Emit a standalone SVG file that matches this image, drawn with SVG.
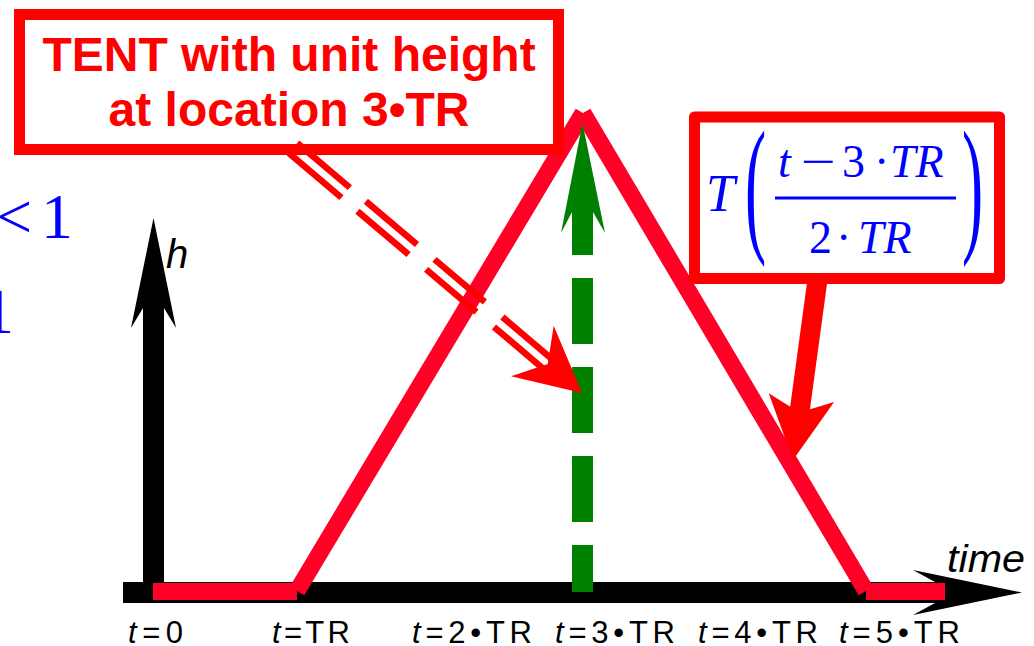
<svg xmlns="http://www.w3.org/2000/svg" width="1034" height="646" viewBox="0 0 1034 646">
<style>
.lbl{font-family:"Liberation Sans",Arial,sans-serif;font-size:31px;fill:#000}
.it{font-style:italic}
.math{font-family:"Liberation Serif","Times New Roman",serif;fill:#0000ff}
.boxtxt{font-family:"Liberation Sans",Arial,sans-serif;font-weight:bold;font-size:48px;fill:#ff0000}
.tent{stroke:#ff0026;stroke-width:17;fill:none;stroke-linecap:butt}
.dbl{stroke:#ff0000;stroke-width:6.5;fill:none;stroke-dasharray:69 21 67 23 66 23 300}
</style>
<rect width="1034" height="646" fill="#ffffff"/>

<!-- cropped blue text at left edge -->
<g id="leftmath" class="math" font-size="64">
  <text x="-4" y="238">&lt;</text>
  <text x="41" y="238">1</text>
  <text x="-18" y="333">1</text>
</g>

<!-- axes -->
<g id="axes" fill="#000">
  <polygon points="153.5,218 176,328 164,308 164,603 143,603 143,308 131,328"/>
  <polygon points="123,582 935,582 913,570 1022,592.5 913,615 935,603 123,603"/>
  <text x="166" y="268" style="font-family:'Liberation Sans',Arial,sans-serif;font-style:italic;font-size:40px">h</text>
  <text x="947" y="572" textLength="78" lengthAdjust="spacingAndGlyphs" style="font-family:'Liberation Sans',Arial,sans-serif;font-style:italic;font-size:39px">time</text>
</g>

<!-- tent -->
<g id="tent">
  <line class="tent" x1="153" y1="591.5" x2="297" y2="591.5"/>
  <line class="tent" x1="866" y1="591.5" x2="945" y2="591.5"/>
  <line class="tent" x1="297" y1="591" x2="583" y2="113"/>
  <line class="tent" x1="583" y1="113" x2="866" y2="591"/>
</g>

<!-- green dashed arrow -->
<g id="peak-arrow" fill="#008000">
  <polygon points="582.5,123 605,233 593,212 593,255 572,255 572,212 561,233"/>
  <line x1="582.5" y1="278" x2="582.5" y2="592" stroke="#008000" stroke-width="21" stroke-dasharray="66 23"/>
</g>

<!-- box 1 -->
<g id="box-tent-label">
  <rect x="19.5" y="14.5" width="539" height="135" fill="#fff" stroke="#ff0000" stroke-width="11"/>
  <text class="boxtxt" x="289" y="71" text-anchor="middle">TENT with unit height</text>
  <text class="boxtxt" x="289" y="126" text-anchor="middle">at location 3•TR</text>
</g>

<!-- box 2 -->
<g id="box-formula">
  <rect x="694.5" y="117" width="305" height="161.5" fill="#fff" stroke="#ff0000" stroke-width="11" stroke-linejoin="round"/>
  <g class="math">
    <text x="706" y="211" font-size="52" font-style="italic">T</text>
    <text transform="translate(745,235) scale(0.42,1)" font-size="151">(</text>
    <text transform="translate(962,235) scale(0.42,1)" font-size="151">)</text>
    <text y="177" font-size="46"><tspan x="778" font-style="italic">t</tspan></text>
    <text transform="translate(801,177) scale(1.35,1)" font-size="46">−</text>
    <text y="177" font-size="46"><tspan x="842">3</tspan><tspan x="874">·</tspan><tspan x="890" font-style="italic">TR</tspan></text>
    <rect x="775" y="196.5" width="181" height="3"/>
    <text y="253" font-size="46"><tspan x="809">2</tspan><tspan x="836">·</tspan><tspan x="858" font-style="italic">TR</tspan></text>
  </g>
</g>

<!-- connectors -->
<g id="connectors">
  <line class="dbl" x1="297.2" y1="143" x2="551.9" y2="358.9"/>
  <line class="dbl" x1="288.8" y1="153" x2="543.5" y2="368.9"/>
  <polygon points="582,393 553.7,325.8 547.7,363.9 511.1,376.2" fill="#ff0000"/>
  <line x1="818" y1="276" x2="799.4" y2="413" stroke="#ff0000" stroke-width="20"/>
  <polygon points="793,460 768.7,393.2 799.4,412.4 834.1,402" fill="#ff0000"/>
</g>

<!-- time labels -->
<g id="labels">
  <text class="lbl" x="128" y="643" textLength="55" lengthAdjust="spacing"><tspan class="it">t</tspan>=0</text>
  <text class="lbl" x="272" y="643" textLength="78" lengthAdjust="spacing"><tspan class="it">t</tspan>=TR</text>
  <text class="lbl" x="412" y="643" textLength="120" lengthAdjust="spacing"><tspan class="it">t</tspan>=2•TR</text>
  <text class="lbl" x="555" y="643" textLength="120" lengthAdjust="spacing"><tspan class="it">t</tspan>=3•TR</text>
  <text class="lbl" x="698" y="643" textLength="120" lengthAdjust="spacing"><tspan class="it">t</tspan>=4•TR</text>
  <text class="lbl" x="839" y="643" textLength="121" lengthAdjust="spacing"><tspan class="it">t</tspan>=5•TR</text>
</g>
</svg>
